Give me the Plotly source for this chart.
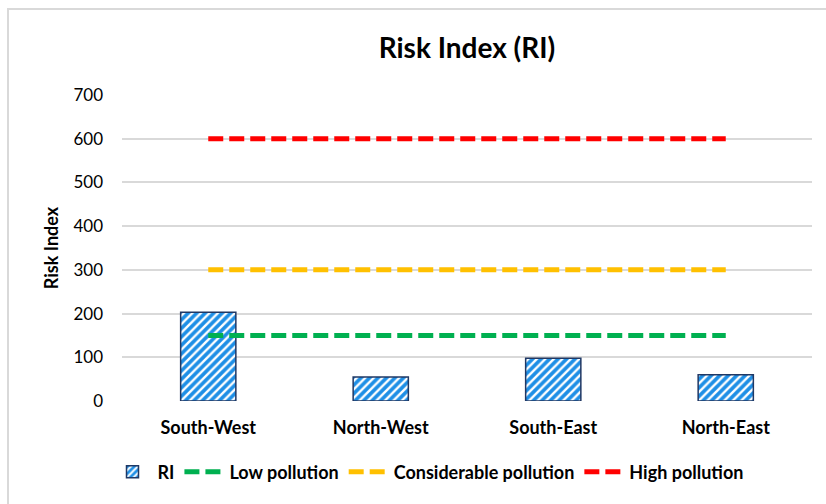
import plotly.graph_objects as go

regions = ["South-West", "North-West", "South-East", "North-East"]
ri_values = [203, 55, 98, 60]
low_pollution = [150, 150, 150, 150]
considerable_pollution = [300, 300, 300, 300]
high_pollution = [600, 600, 600, 600]
y_ticks = [0, 100, 200, 300, 400, 500, 600, 700]

FONT = "Lato"

fig = go.Figure()
fig.add_trace(go.Bar(
    x=regions, y=ri_values, name="<b>RI</b>",
    marker=dict(
        color="#1E8FE6",
        line=dict(color="#203864", width=1.5),
        pattern=dict(shape="/", fgcolor="white", bgcolor="#1E8FE6", size=6, solidity=0.4,
                     fillmode="replace"),
    ),
))
for name, vals, col in [("Low pollution", low_pollution, "#00B050"),
                        ("Considerable pollution", considerable_pollution, "#FFC000"),
                        ("High pollution", high_pollution, "#FF0000")]:
    fig.add_trace(go.Scatter(
        x=regions, y=vals, name="<b>" + name + "</b>", mode="lines",
        line=dict(color=col, width=5, dash="15px,6px"),
    ))

L, R, T, B = 122, 14, 95, 103
W, H = 826, 504
pw, ph = W - L - R, H - T - B

def px_x(p):
    return (p - L) / pw

def px_y(p):
    return (H - B - p) / ph

fig.add_shape(type="rect", xref="paper", yref="paper",
              x0=px_x(8), x1=px_x(830), y0=px_y(508), y1=px_y(9),
              line=dict(color="#D9D9D9", width=2), fillcolor="rgba(0,0,0,0)", layer="below")

fig.update_layout(
    width=W, height=H,
    margin=dict(l=L, r=R, t=T, b=B),
    paper_bgcolor="white", plot_bgcolor="white",
    font=dict(family=FONT, color="black"),
    title=dict(text="<b>Risk Index (RI)</b>", x=0.5, xanchor="center", xref="paper",
               y=1 - 48 / H, yanchor="middle", font=dict(size=28, family=FONT, color="black")),
    bargap=0.68,
    showlegend=True,
    legend=dict(orientation="h", x=px_x(428), xanchor="center",
                y=px_y(472), yanchor="middle",
                font=dict(size=18, family=FONT, color="black"), traceorder="normal",
                itemwidth=40, tracegroupgap=0),
    xaxis=dict(showgrid=False, showline=False, zeroline=False, ticks="",
               tickfont=dict(size=18, family=FONT, color="black"), ticklabelstandoff=14),
    yaxis=dict(range=[0, 700], tickvals=y_ticks, showgrid=True, gridcolor="#D9D9D9", gridwidth=1.5,
               zeroline=False, showline=False, ticks="",
               tickfont=dict(size=17, family=FONT, color="black"), ticklabelstandoff=18,
               title=dict(text="<b>Risk Index</b>", font=dict(size=18, family=FONT, color="black"), standoff=10)),
)
fig.update_xaxes(tickprefix="<b>", ticksuffix="</b>")
fig.update_yaxes(tickprefix="<b>", ticksuffix="</b>")

fig.write_html("out.html", config={"displayModeBar": False},
               post_script="document.body.style.margin='0';")
